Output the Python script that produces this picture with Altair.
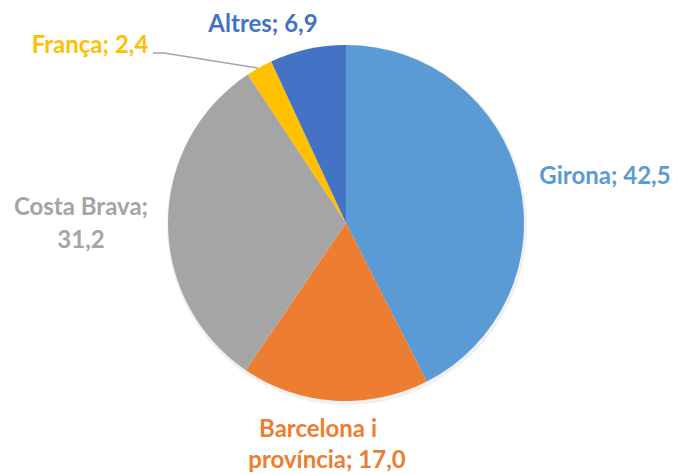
import altair as alt
import pandas as pd

categories = ["Girona", "Barcelona i província", "Costa Brava", "França", "Altres"]
values = [42.5, 17.0, 31.2, 2.4, 6.9]
colors = ["#5B9BD5", "#ED7D31", "#A5A5A5", "#FFC000", "#4472C4"]

df = pd.DataFrame({"cat": categories, "val": values, "ord": list(range(len(values)))})

CX, CY, R = 338, 215, 178

pie = alt.Chart(df).mark_arc(outerRadius=R, stroke=None).encode(
    theta=alt.Theta("val:Q", stack=True),
    order=alt.Order("ord:Q"),
    color=alt.Color("cat:N", scale=alt.Scale(domain=categories, range=colors), legend=None),
    x=alt.value(CX),
    y=alt.value(CY),
)

shadow = alt.Chart(df).mark_arc(outerRadius=R + 2, color="#000000", opacity=0.06).encode(
    theta=alt.Theta("val:Q", stack=True),
    order=alt.Order("ord:Q"),
    x=alt.value(CX + 1),
    y=alt.value(CY + 2),
)

def label(text, x, y, color):
    d = pd.DataFrame({"t": [text]})
    return alt.Chart(d).mark_text(
        font="Lato", fontWeight="bold", fontSize=24, color=color,
        align="center", baseline="alphabetic",
    ).encode(text="t:N", x=alt.value(x), y=alt.value(y))

f = lambda v: f"{v:.1f}".replace(".", ",")

labels = [
    label(f"Girona; {f(values[0])}", 597, 176, colors[0]),
    label("Barcelona i", 310, 429, colors[1]),
    label(f"província; {f(values[1])}", 319, 460, colors[1]),
    label("Costa Brava;", 73, 207, colors[2]),
    label(f(values[2]), 73, 240, colors[2]),
    label(f"França; {f(values[3])}", 82, 45, colors[3]),
    label(f"Altres; {f(values[4])}", 255, 24, colors[4]),
]

seg = pd.DataFrame({"a": [0]})
leader1 = alt.Chart(seg).mark_rule(color="#A5A5A5", strokeWidth=1.5).encode(
    x=alt.value(145), x2=alt.value(156), y=alt.value(45), y2=alt.value(45))
leader2 = alt.Chart(seg).mark_rule(color="#A5A5A5", strokeWidth=1.5).encode(
    x=alt.value(156), x2=alt.value(250), y=alt.value(45), y2=alt.value(60))

chart = alt.layer(shadow, pie, leader1, leader2, *labels).properties(
    width=662, height=466, padding=0,
    autosize=alt.AutoSizeParams(type="none"),
).configure_view(stroke=None)

chart.save("out.html", embed_options={"renderer": "svg", "actions": False})
